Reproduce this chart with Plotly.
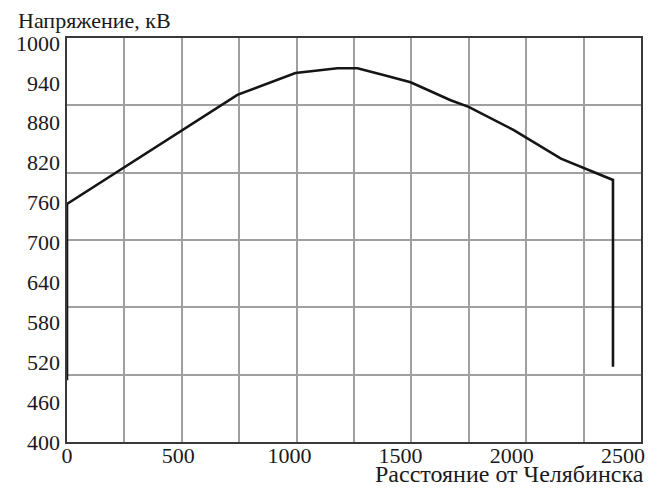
import plotly.graph_objects as go

# Data (distance from Chelyabinsk, km; voltage, kV)
distance = [0, 0, 766, 1027, 1216, 1306, 1423, 1545, 1725, 1806, 2009, 2221, 2455, 2455]
voltage = [493, 758, 922, 955, 962, 962, 952, 941, 914, 904, 869, 826, 794, 513]

x_ticks = [0, 500, 1000, 1500, 2000, 2500]
y_ticks = [400, 460, 520, 580, 640, 700, 760, 820, 880, 940, 1000]

y_title = "Напряжение, кВ"
x_title = "Расстояние от Челябинска"

FONT = "Times New Roman, Liberation Serif, serif"
W, H = 656, 488
L, R, T, B = 67, 15, 38, 46
pw, ph = W - L - R, H - T - B
FS = 22

fig = go.Figure()
# grid subplot (empty)
fig.add_trace(go.Scatter(x=[], y=[], xaxis="x", yaxis="y", showlegend=False, hoverinfo="skip"))
# data curve on label axes
fig.add_trace(go.Scatter(
    x=distance, y=voltage, xaxis="x2", yaxis="y2", mode="lines",
    line=dict(color="#151515", width=2.6), showlegend=False,
))

fig.update_layout(
    width=W, height=H,
    margin=dict(l=L, r=R, t=T, b=B),
    paper_bgcolor="white", plot_bgcolor="white",
    font=dict(family=FONT, size=FS, color="#1a1a1a"),
    xaxis=dict(range=[0, 2500], dtick=250, showgrid=True, gridcolor="#a0a0a0", gridwidth=1.6,
               showticklabels=False, ticks="", zeroline=False,
               showline=True, mirror=True, linecolor="#3a3a3a", linewidth=2),
    yaxis=dict(range=[400, 1000], dtick=100, showgrid=True, gridcolor="#a0a0a0", gridwidth=1.6,
               showticklabels=False, ticks="", zeroline=False,
               showline=True, mirror=True, linecolor="#3a3a3a", linewidth=2),
    xaxis2=dict(overlaying="x", anchor="y2", side="bottom", range=[0, 2581],
                tickmode="array", tickvals=x_ticks, ticktext=[str(v) for v in x_ticks],
                showgrid=False, zeroline=False, showline=False, ticks="",
                ticklabelstandoff=-2,
                tickfont=dict(family=FONT, size=FS, color="#1a1a1a")),
    yaxis2=dict(overlaying="y", anchor="x2", side="left", range=[400, 1007.5],
                tickmode="array", tickvals=y_ticks, ticktext=[str(v) for v in y_ticks],
                showgrid=False, zeroline=False, showline=False, ticks="",
                ticklabelstandoff=6,
                tickfont=dict(family=FONT, size=FS, color="#1a1a1a")),
    annotations=[
        dict(text=y_title, xref="paper", yref="paper", x=(16 - L) / pw, y=(H - B - 21) / ph,
             xanchor="left", yanchor="middle", showarrow=False,
             font=dict(family=FONT, size=FS, color="#1a1a1a")),
        dict(text=x_title, xref="paper", yref="paper", x=(645 - L) / pw, y=(H - B - 488) / ph,
             xanchor="right", yanchor="bottom", showarrow=False, borderpad=0,
             font=dict(family=FONT, size=24, color="#1a1a1a")),
    ],
)

fig.write_html("out.html")
